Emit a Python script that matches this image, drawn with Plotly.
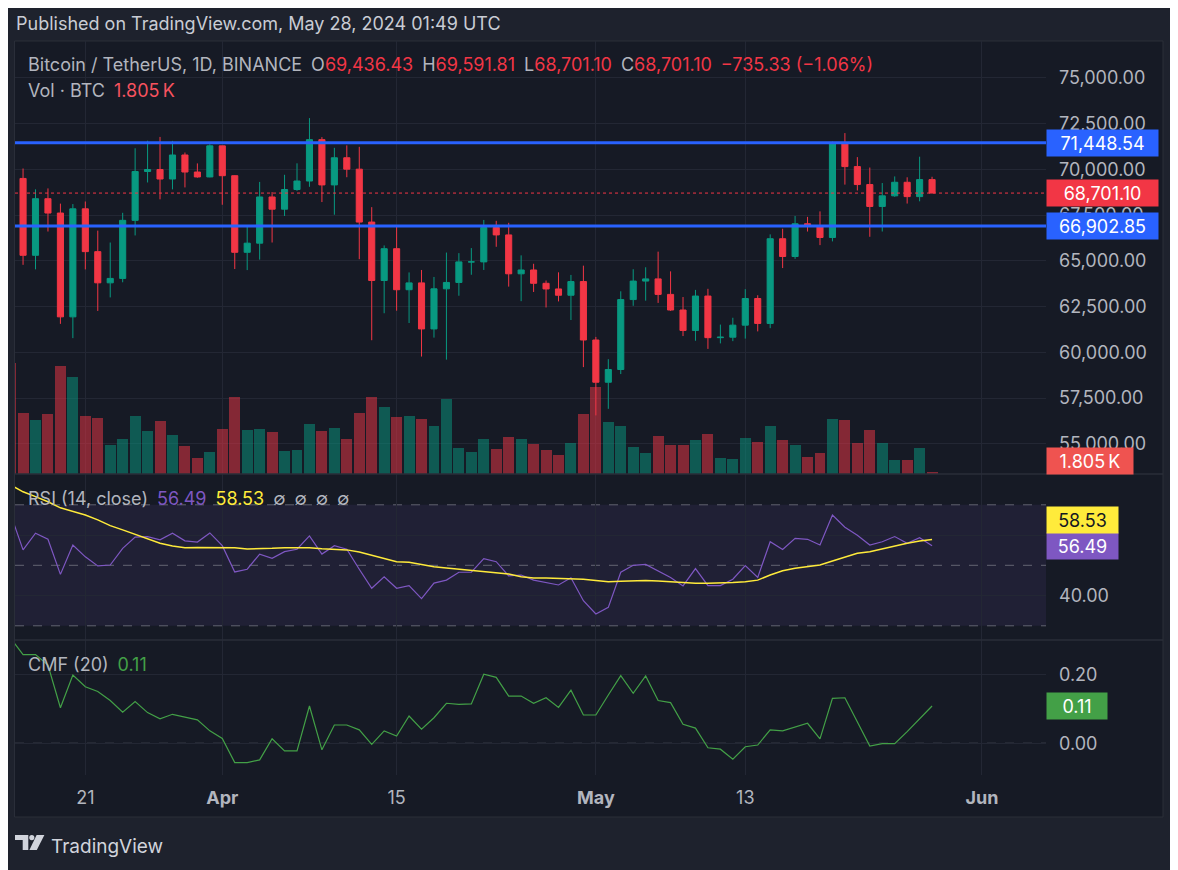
import plotly.graph_objects as go
import pandas as pd

# ---------------- data ----------------
dates = pd.date_range("2024-03-15", "2024-05-28", freq="D")

open_ = [71387.87, 69499.84, 65300.64, 68393.47, 67610.00, 61937.41, 67840.51, 65501.28, 63796.64, 64037.20,
         67210.00, 69880.00, 69988.00, 69469.99, 70780.60, 69850.53, 69582.17,
         71280.00, 69649.81, 65463.99, 65963.27, 68487.80, 67820.63, 68896.00, 69360.38, 71620.00, 69146.00,
         70631.08, 70006.22, 67116.52, 63924.52, 65661.85, 63419.99, 63793.40, 61277.38, 63470.09, 63818.01,
         64940.58, 64941.15, 66819.32, 66414.00, 64289.58, 64498.33, 63770.00, 63461.98, 63118.62, 63866.00,
         60672.01, 58364.97, 59060.60, 62882.01, 63892.03, 64012.00, 63165.18, 62312.07, 61193.03, 63074.00,
         60799.99, 60825.99, 61484.00, 62940.09, 61577.49, 66206.51, 65235.21, 67024.00, 66915.20, 66274.00,
         71446.62, 70148.34, 69166.62, 67969.66, 68549.99, 69290.56, 68507.67, 69436.43]
high = [72357.13, 70043.00, 68904.40, 68956.00, 68124.11, 68100.00, 68240.47, 66649.62, 65999.00, 67622.76,
        71150.00, 71561.10, 71769.54, 71552.06, 70916.16, 70321.10, 71366.00,
        71288.23, 69674.23, 66903.63, 69309.91, 68756.67, 69700.00, 70326.29, 72797.99, 71758.19, 71172.08,
        71305.89, 71227.46, 67931.43, 65840.00, 66867.07, 64365.00, 64499.00, 64117.09, 65450.00, 65419.00,
        65695.56, 67232.35, 67183.01, 67075.37, 65297.94, 64837.99, 63923.41, 64370.00, 64228.35, 64734.00,
        60841.63, 59625.00, 63333.00, 64540.00, 64646.00, 65500.00, 64422.41, 63020.22, 63410.00, 63469.13,
        61515.00, 61888.00, 63450.00, 63118.36, 66444.00, 66752.01, 67451.20, 67400.01, 67700.00, 71515.56,
        71979.00, 70666.00, 70096.12, 69250.00, 69610.00, 69562.23, 70687.56, 69591.81]
low = [65630.00, 64780.00, 64533.00, 66600.00, 61555.00, 60775.00, 64529.01, 62260.00, 63000.00, 63825.85,
       66385.06, 69280.00, 68359.18, 68903.62, 69009.00, 69540.00, 69562.99,
       68062.86, 64550.00, 64493.07, 65064.52, 66000.00, 67447.83, 68824.00, 69043.24, 68210.00, 67518.00,
       69567.21, 65086.86, 60660.57, 62134.00, 62274.40, 61600.00, 59768.00, 60803.35, 59600.01, 63090.07,
       64237.50, 64500.00, 65765.81, 63589.87, 62794.00, 63297.00, 62450.00, 62781.00, 61765.53, 59191.60,
       56552.82, 56911.84, 58811.32, 62541.03, 62822.17, 62700.00, 62261.00, 60888.00, 60631.78, 60187.12,
       60487.09, 60610.00, 60749.21, 61142.77, 61319.47, 64602.77, 65106.38, 66600.00, 65857.25, 66060.31,
       69162.94, 68842.19, 66312.16, 66600.00, 68500.00, 68128.01, 68250.00, 68701.10]
close = [69499.85, 65300.63, 68393.48, 67609.99, 61937.40, 67840.51, 65501.27, 63796.64, 64037.20, 67211.05,
         69880.01, 69988.00, 69469.99, 70780.60, 69850.54, 69582.18, 71280.01,
         69649.80, 65463.99, 65963.28, 68487.79, 67820.62, 68896.00, 69360.39, 71620.00, 69146.00, 70631.08,
         70006.23, 67116.52, 63924.51, 65661.84, 63419.99, 63793.39, 61277.37, 63470.08, 63818.01, 64940.59,
         64941.15, 66819.32, 66414.00, 64289.59, 64498.34, 63770.01, 63461.98, 63118.62, 63866.00, 60672.00,
         58364.97, 59060.61, 62882.01, 63892.04, 64012.00, 63165.19, 62312.08, 61193.03, 63074.01, 60799.99,
         60825.99, 61483.99, 62940.08, 61577.49, 66206.50, 65235.21, 67024.00, 66915.20, 66274.01, 71446.62,
         70148.34, 69166.62, 67969.65, 68549.99, 69290.57, 68507.67, 69436.43, 68701.10]
volume = [103230, 56730, 50220, 55800, 100440, 90210, 53940, 52080, 26970, 32550,
          53940, 39990, 49290, 36270, 26040, 14880, 20460,
          41850, 71610, 40920, 41850, 39060, 21390, 22320, 46500, 39990, 42780,
          32550, 56730, 71610, 62310, 53010, 53940, 51150, 44640, 69750, 24180,
          20460, 32550, 23250, 34410, 32550, 27900, 22320, 17670, 28830, 55800,
          80910, 48360, 44640, 25110, 19530, 35340, 26970, 26970, 31620, 37200,
          14880, 13950, 33480, 29760, 44640, 31620, 26970, 15810, 19530, 51150,
          50220, 28830, 40920, 28830, 13020, 13020, 24180, 1805]
rsi = [66.9, 55.1, 60.6, 58.6, 47.0, 56.7, 52.8, 49.8, 50.1, 55.6, 59.3, 59.5, 58.4, 60.6, 58.1, 57.7, 60.7,
       56.5, 47.8, 48.7, 53.7, 52.3, 54.5, 55.3, 59.7, 53.7, 56.5, 55.3, 48.7, 42.4, 46.2, 42.4, 43.3, 39.0,
       44.1, 45.1, 47.7, 47.7, 52.2, 51.2, 46.5, 46.8, 45.1, 44.4, 43.5, 45.9, 38.3,
       33.9, 36.1, 47.7, 50.0, 50.3, 48.2, 46.0, 43.2, 48.9, 43.3, 43.3, 45.4, 49.9, 46.0, 57.8, 55.2, 58.9,
       58.6, 56.7, 66.6, 62.6, 59.9, 56.7, 57.8, 59.5, 57.3, 59.1, 56.49]
rsi_ma = [76.6, 74.3, 72.7, 71.0, 69.0, 67.9, 66.6, 65.0, 63.1, 61.7, 60.2, 58.7, 57.3, 56.4, 55.8, 55.9, 55.9,
          55.8, 55.8, 55.4, 55.4, 55.6, 55.8, 55.8, 55.8, 55.5, 55.4, 55.1, 54.4, 53.4, 52.3, 51.2, 51.0, 50.2,
          49.5, 49.1, 48.7, 48.1, 47.7, 47.4, 47.1, 46.2, 45.8, 45.8, 45.7, 45.7, 45.4,
          45.0, 44.6, 44.7, 44.9, 45.0, 44.8, 44.5, 44.3, 44.1, 44.1, 44.1, 44.3, 44.6, 45.1, 46.8, 48.2, 49.0,
          49.5, 50.1, 51.4, 52.6, 54.0, 54.5, 55.4, 56.5, 57.3, 58.0, 58.53]
cmf = [0.305, 0.257, 0.257, 0.227, 0.103, 0.198, 0.164, 0.150, 0.124, 0.090, 0.121, 0.089, 0.071, 0.084, 0.076,
       0.068, 0.036,
       0.014, -0.056, -0.056, -0.048, 0.013, -0.022, -0.022, 0.108, -0.019, 0.053, 0.053, 0.039, -0.003, 0.036,
       0.021, 0.079, 0.041, 0.074, 0.116, 0.113, 0.114, 0.200, 0.191, 0.137, 0.137, 0.116, 0.132, 0.104, 0.154,
       0.082,
       0.082, 0.140, 0.196, 0.145, 0.195, 0.124, 0.118, 0.055, 0.044, -0.013, -0.017, -0.046, -0.010, -0.005,
       0.039, 0.036, 0.046, 0.058, 0.013, 0.130, 0.132, 0.063, -0.008, -0.001, -0.001, 0.034, 0.070, 0.108]

levels = [71448.54, 66902.85]
price_ticks = [55000, 57500, 60000, 62500, 65000, 67500, 70000, 72500, 75000]
time_tickvals = ["2024-03-21", "2024-04-01", "2024-04-15", "2024-05-01", "2024-05-13", "2024-06-01"]
time_ticktext = ["21", "<b>Apr</b>", "15", "<b>May</b>", "13", "<b>Jun</b>"]

# ---------------- style / layout helpers ----------------
# The page body has an 8px margin, so the figure starts 8px in from the window corner;
# the figure is kept full-size so it also covers the window's right and bottom edges.
OFF = 8
W, H = 1178, 870
def px(x): return (x - OFF) / W
def py(y): return 1 - (y - OFF) / H

FONT = "Inter, Roboto, 'Open Sans', sans-serif"
UP, DOWN = "#089981", "#F23645"
TXT = "#B2B5BE"
GRID = "#232734"
BG = "#161A25"
OUTER = "#1E222D"
PURPLE, YELLOW, GREEN, BLUE = "#7E57C2", "#FFEB3B", "#43A047", "#2962FF"

vol_colors = ["rgba(8,153,129,0.5)" if c >= o else "rgba(242,54,69,0.5)" for o, c in zip(open_, close)]

fig = go.Figure()
fig.add_trace(go.Bar(x=dates, y=volume, marker_color=vol_colors, marker_line_width=0,
                     width=0.88 * 86400000, xaxis="x", yaxis="y", hoverinfo="skip"))
fig.add_trace(go.Candlestick(x=dates, open=open_, high=high, low=low, close=close,
                             increasing=dict(line=dict(color=UP, width=1), fillcolor=UP),
                             decreasing=dict(line=dict(color=DOWN, width=1), fillcolor=DOWN),
                             whiskerwidth=0, xaxis="x", yaxis="y2", hoverinfo="skip"))
fig.add_trace(go.Scatter(x=dates, y=rsi, mode="lines", line=dict(color=PURPLE, width=1.2),
                         xaxis="x2", yaxis="y3", hoverinfo="skip"))
fig.add_trace(go.Scatter(x=dates, y=rsi_ma, mode="lines", line=dict(color=YELLOW, width=1.5),
                         xaxis="x2", yaxis="y3", hoverinfo="skip"))
fig.add_trace(go.Scatter(x=dates, y=cmf, mode="lines", line=dict(color=GREEN, width=1.2),
                         xaxis="x3", yaxis="y4", hoverinfo="skip"))

xdom = [px(15), px(1046)]
xcommon = dict(domain=xdom, showgrid=True, gridcolor=GRID, gridwidth=1, zeroline=False,
               showline=False, ticks="", tickvals=time_tickvals, type="date")
ycommon = dict(showgrid=True, gridcolor=GRID, zeroline=False, showline=False, ticks="",
               side="right", tickfont=dict(family=FONT, size=18, color=TXT), ticklabelstandoff=12)

fig.update_layout(
    width=W, height=H, margin=dict(l=0, r=0, t=0, b=0),
    paper_bgcolor=OUTER, plot_bgcolor="rgba(0,0,0,0)",
    showlegend=False, hovermode=False, bargap=0,
    font=dict(family=FONT, color=TXT),
    xaxis=dict(**xcommon, range=["2024-03-15 08:28", "2024-06-06 03:36"], anchor="y",
               showticklabels=False, rangeslider=dict(visible=False)),
    xaxis2=dict(**xcommon, matches="x", anchor="y3", showticklabels=False),
    xaxis3=dict(**xcommon, matches="x", anchor="y4", showticklabels=True, ticktext=time_ticktext,
                tickfont=dict(family=FONT, size=18, color=TXT), ticklabelstandoff=10),
    yaxis=dict(domain=[py(474), py(41)], range=[0, 402700], visible=False, anchor="x"),
    yaxis2=dict(**ycommon, overlaying="y", anchor="x", range=[53351, 77010],
                tickvals=price_ticks, tickformat=",.2f"),
    yaxis3=dict(**ycommon, domain=[py(640), py(474)], anchor="x2", range=[25.31, 80.18],
                tickvals=[40, 60], ticktext=["40.00", ""]),
    yaxis4=dict(**ycommon, domain=[py(775), py(640)], anchor="x3", range=[-0.0919, 0.2994],
                tickvals=[0, 0.2], ticktext=["0.00", "0.20"]),
)

shapes = []
# chart frame
shapes.append(dict(type="rect", xref="paper", yref="paper", x0=px(14.5), x1=px(1163), y0=py(817), y1=py(41),
                   fillcolor=BG, line=dict(color="#2A2E39", width=1), layer="below"))
for yy in (474, 640):
    shapes.append(dict(type="line", xref="paper", yref="paper", x0=px(15), x1=px(1163), y0=py(yy), y1=py(yy),
                       line=dict(color="#2A2E39", width=1.5), layer="above"))
# RSI band and levels
shapes.append(dict(type="rect", xref="x2 domain", yref="y3", x0=0, x1=1, y0=30, y1=70,
                   fillcolor="rgba(126,87,194,0.1)", line=dict(width=0), layer="below"))
for lv in (70, 50, 30):
    shapes.append(dict(type="line", xref="x2 domain", yref="y3", x0=0, x1=1, y0=lv, y1=lv,
                       line=dict(color="rgba(120,123,134,0.75)", width=1, dash="dash"), layer="below"))
# CMF zero line
shapes.append(dict(type="line", xref="x3 domain", yref="y4", x0=0, x1=1, y0=0, y1=0,
                   line=dict(color="rgba(120,123,134,0.75)", width=1, dash="dash"), layer="below"))
# current price dotted line
shapes.append(dict(type="line", xref="x domain", yref="y2", x0=0, x1=1, y0=close[-1], y1=close[-1],
                   line=dict(color=DOWN, width=1, dash="dot"), layer="above"))
# horizontal levels
for lv in levels:
    shapes.append(dict(type="line", xref="x domain", yref="y2", x0=0, x1=1, y0=lv, y1=lv,
                       line=dict(color=BLUE, width=3), layer="above"))

# TradingView logo
def path(points):
    return "M " + " L ".join(f"{px(a):.5f},{py(b):.5f}" for a, b in points) + " Z"
logo_col = "#D1D4DC"
shapes.append(dict(type="path", xref="paper", yref="paper",
                   path=path([(15, 835), (28.3, 835), (28.3, 850), (22.7, 850), (22.7, 840), (15, 840)]),
                   fillcolor=logo_col, line=dict(width=0)))
shapes.append(dict(type="circle", xref="paper", yref="paper", x0=px(29.2), x1=px(34.4), y0=py(840.2), y1=py(835),
                   fillcolor=logo_col, line=dict(width=0)))
shapes.append(dict(type="path", xref="paper", yref="paper",
                   path=path([(36.6, 835), (44.4, 835), (36.8, 850), (29.4, 850)]),
                   fillcolor=logo_col, line=dict(width=0)))
fig.update_layout(shapes=shapes)

# ---------------- texts ----------------
def span(t, c):
    return f"<span style='color:{c}'>{t}</span>"

sp = "\u2002"
chg = close[-1] - close[-2]
pct = chg / close[-2] * 100
def sgn(v, fmt):
    return ("\u2212" if v < 0 else "+") + format(abs(v), fmt)

legend1 = ("Bitcoin / TetherUS, 1D, BINANCE" + sp + "O" + span(f"{open_[-1]:,.2f}", DOWN) + sp +
           "H" + span(f"{high[-1]:,.2f}", DOWN) + sp + "L" + span(f"{low[-1]:,.2f}", DOWN) + sp +
           "C" + span(f"{close[-1]:,.2f}", DOWN) + sp +
           span(f"{sgn(chg, ',.2f')} ({sgn(pct, '.2f')}%)", DOWN))
legend2 = "Vol · BTC" + sp + span(f"{volume[-1] / 1000:.3f}\u2009K", "#F7525F")
rsi_lbl = ("RSI (14, close)" + sp + span(f"{rsi[-1]:.2f}", PURPLE) + sp + span(f"{rsi_ma[-1]:.2f}", YELLOW) +
           sp + sp.join(["∅"] * 4))
cmf_lbl = "CMF (20)" + sp + span(f"{cmf[-1]:.2f}", GREEN)

ann = []
def add_text(x, y, text, size=18, color=TXT):
    ann.append(dict(xref="paper", yref="paper", x=px(x), y=py(y), xanchor="left", yanchor="middle",
                    text=text, showarrow=False, font=dict(family=FONT, size=size, color=color)))

add_text(14, 23, "Published on TradingView.com, May 28, 2024 01:49 UTC", 18, "#C9CCD4")
add_text(26, 64, legend1, 18)
add_text(26, 90, legend2, 18)
add_text(26, 498, rsi_lbl, 18)
add_text(26, 664, cmf_lbl, 18)
ann.append(dict(xref="paper", yref="paper", x=px(49), y=py(846), xanchor="left", yanchor="middle",
                text="TradingView", showarrow=False, font=dict(family=FONT, size=19, color="#D1D4DC")))

def add_box(yref, y, text, bg, fg, width, yshift=0):
    ann.append(dict(xref="paper", yref=yref, x=px(1046), y=y, xanchor="left", yanchor="middle",
                    text=text, showarrow=False, bgcolor=bg, width=width, height=26, borderpad=0,
                    align="center", yshift=yshift, font=dict(family=FONT, size=18, color=fg)))

for lv in levels:
    add_box("y2", lv, f"{lv:,.2f}", BLUE, "#FFFFFF", 111)
add_box("y2", close[-1], f"{close[-1]:,.2f}", DOWN, "#FFFFFF", 111)
add_box("paper", py(461), f"{volume[-1] / 1000:.3f}\u2009K", "#EF5350", "#FFFFFF", 86)
add_box("y3", rsi[-1], f"{rsi[-1]:.2f}", PURPLE, "#FFFFFF", 71)
add_box("y3", rsi[-1], f"{rsi_ma[-1]:.2f}", YELLOW, "#131722", 71, yshift=26)
add_box("y4", cmf[-1], f"{cmf[-1]:.2f}", GREEN, "#FFFFFF", 60)

fig.update_layout(annotations=ann)
fig.write_html("out.html")
